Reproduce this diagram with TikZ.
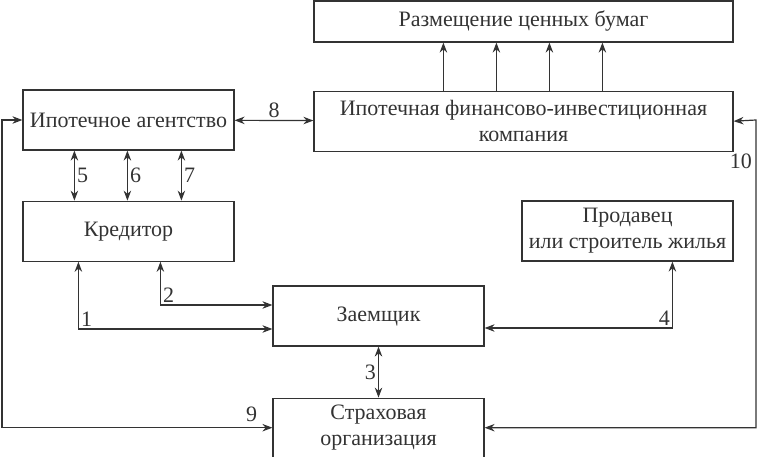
\documentclass[tikz,border=0pt]{standalone}
\usepackage{fontspec}
\setmainfont{Liberation Serif}
\usetikzlibrary{positioning,arrows.meta}
\definecolor{ink}{HTML}{333333}
\tikzstyle{block} = [rectangle, minimum width = 211pt, minimum height = 60pt,
	text centered, align = center, inner sep = 0pt, line width = 1.2pt, draw = ink, text = ink]
\tikzstyle{arrow} = [line width = 1.2pt, draw = ink, -{Stealth[length=10pt, width=7.5pt]}]
\tikzstyle{darrow} = [line width = 1.2pt, draw = ink,
	{Stealth[length=10pt, width=7.5pt]}-{Stealth[length=10pt, width=7.5pt]}]
\tikzstyle{lbl} = [text = ink, inner sep = 2pt]
\begin{document}
\begin{tikzpicture}[x = 1pt, y = -1pt, font = \fontsize{22}{26}\selectfont]
\useasboundingbox (0,0) rectangle (757,457);

\node (bonds) [block, minimum width = 419pt, minimum height = 41pt] at (523.5,21.5)
	{Размещение ценных бумаг};
\node (ific) [block, minimum width = 419pt, below = 48pt of bonds]
	{Ипотечная финансово-инвестиционная\\компания};
\node (agency) [block] at (128.5,120) {Ипотечное агентство};
\node (creditor) [block, below = 50pt of agency] {Кредитор};
\node (borrower) [block] at (378.5,316) {Заемщик};
\node (insurer) [block, minimum height = 59pt, below = 51pt of borrower]
	{Страховая\\организация};
\node (seller) [block] at (627.5,231) {Продавец\\или строитель жилья};

\coordinate (lbend) at (2,120);
\coordinate (rbend) at (756,120);

% securities
\foreach \dx in {130,183,236,289}
	\draw [arrow] ([xshift = \dx pt]ific.north west) -- ([xshift = \dx pt]bonds.south west);

\draw [darrow] (agency) -- (ific) node [lbl, midway, above] {8};

\draw [darrow] ([xshift = 52pt]agency.south west) -- ([xshift = 52pt]creditor.north west)
	node [lbl, midway, right] {5};
\draw [darrow] ([xshift = 105pt]agency.south west) -- ([xshift = 105pt]creditor.north west)
	node [lbl, midway, right] {6};
\draw [darrow] ([xshift = 159pt]agency.south west) -- ([xshift = 159pt]creditor.north west)
	node [lbl, midway, right] {7};

\draw [darrow] ([xshift = 56pt]creditor.south west) |- ([yshift = -13pt]borrower.west)
	node [lbl, pos = 0.5, above right] {1};
\draw [darrow] ([xshift = 138pt]creditor.south west) |- ([yshift = 11pt]borrower.west)
	node [lbl, pos = 0.5, above right] {2};

\draw [darrow] (borrower) -- (insurer) node [lbl, midway, left] {3};

\draw [darrow] ([xshift = 151pt]seller.south west) |- ([yshift = -12pt]borrower.east)
	node [lbl, pos = 0.5, above left] {4};

\draw [darrow] (insurer.west) -| (lbend) -- (agency.west);
\node [lbl, above left = 4pt and 13pt] at (insurer.west) {9};

\draw [darrow] (insurer.east) -| (rbend) -- (ific.east);
\node [lbl, below left = 32pt and 2pt] at (rbend) {10};
\end{tikzpicture}
\end{document}
